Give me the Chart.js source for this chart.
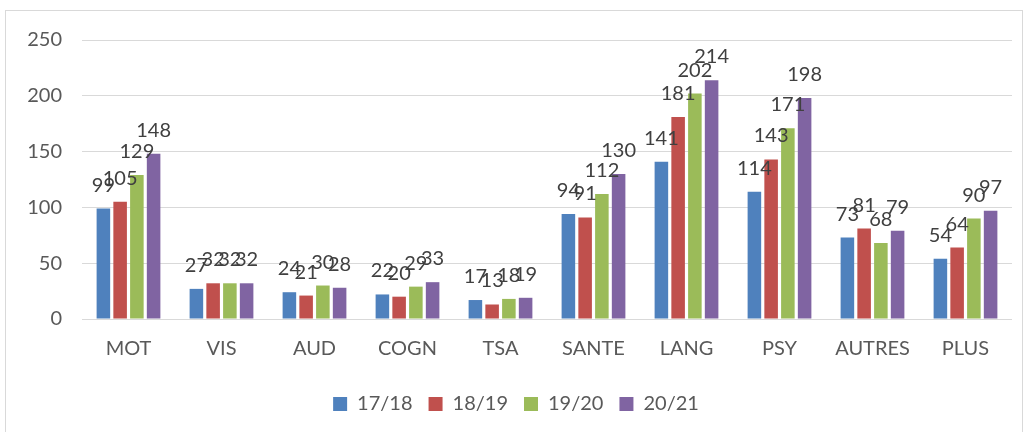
<!DOCTYPE html>
<html>
<head>
<meta charset="utf-8">
<script src="https://cdn.jsdelivr.net/npm/chart.js@4"></script>
<style>
  body { margin: 0; background: #fff; }
  #cadre { position: absolute; left: 5px; top: 10px; width: 1016px; height: 430px; border: 1px solid #d9d9d9; }
  #zone { position: absolute; left: 0; top: 0; width: 1029px; height: 432px; }
</style>
</head>
<body>
<div id="cadre"></div>
<div id="zone"><canvas id="miGrafico"></canvas></div>
<script>
const categorias = ['MOT', 'VIS', 'AUD', 'COGN', 'TSA', 'SANTE', 'LANG', 'PSY', 'AUTRES', 'PLUS'];
const annees = ['17/18', '18/19', '19/20', '20/21'];
const v1718 = [99, 27, 24, 22, 17, 94, 141, 114, 73, 54];
const v1819 = [105, 32, 21, 20, 13, 91, 181, 143, 81, 64];
const v1920 = [129, 32, 30, 29, 18, 112, 202, 171, 68, 90];
const v2021 = [148, 32, 28, 33, 19, 130, 214, 198, 79, 97];
const colores = ['#4f81bd', '#c0504d', '#9bbb59', '#8064a2'];

const fuente = 'Lato, "Open Sans", sans-serif';

// etiquetas encima de cada barra
const etiquetas = {
    id: 'etiquetas',
    afterDatasetsDraw(chart) {
        const ctx = chart.ctx;
        ctx.save();
        ctx.font = '20px ' + fuente;
        ctx.fillStyle = '#404040';
        ctx.textAlign = 'center';
        ctx.textBaseline = 'alphabetic';
        chart.data.datasets.forEach((ds, i) => {
            chart.getDatasetMeta(i).data.forEach((bar, j) => {
                ctx.fillText(ds.data[j], bar.x, bar.y - 17);
            });
        });
        ctx.restore();
    }
};

new Chart(document.getElementById('miGrafico'), {
    type: 'bar',
    data: {
        labels: categorias,
        datasets: [v1718, v1819, v1920, v2021].map((d, i) => ({
            label: annees[i],
            data: d,
            backgroundColor: colores[i],
            borderWidth: 0,
            categoryPercentage: 0.72,
            barPercentage: 0.81
        }))
    },
    options: {
        responsive: true,
        maintainAspectRatio: false,
        animation: false,
        layout: { padding: { left: 20, top: 40, right: 17, bottom: 8 } },
        scales: {
            x: {
                grid: { display: false },
                border: { display: false },
                ticks: { color: '#595959', font: { family: fuente, size: 20 }, padding: 10 },
                afterFit: (s) => { s.height = 59; }
            },
            y: {
                min: 0,
                max: 250,
                ticks: { stepSize: 50, color: '#595959', font: { family: fuente, size: 20 }, padding: 20 },
                grid: { color: '#d9d9d9', drawTicks: false },
                border: { display: false },
                afterFit: (s) => { s.width = 62; }
            }
        },
        plugins: {
            legend: {
                position: 'bottom',
                labels: {
                    color: '#595959',
                    font: { family: fuente, size: 20 },
                    boxWidth: 14,
                    boxHeight: 14,
                    padding: 16
                }
            },
            tooltip: { enabled: false }
        }
    },
    plugins: [etiquetas]
});
</script>
</body>
</html>
